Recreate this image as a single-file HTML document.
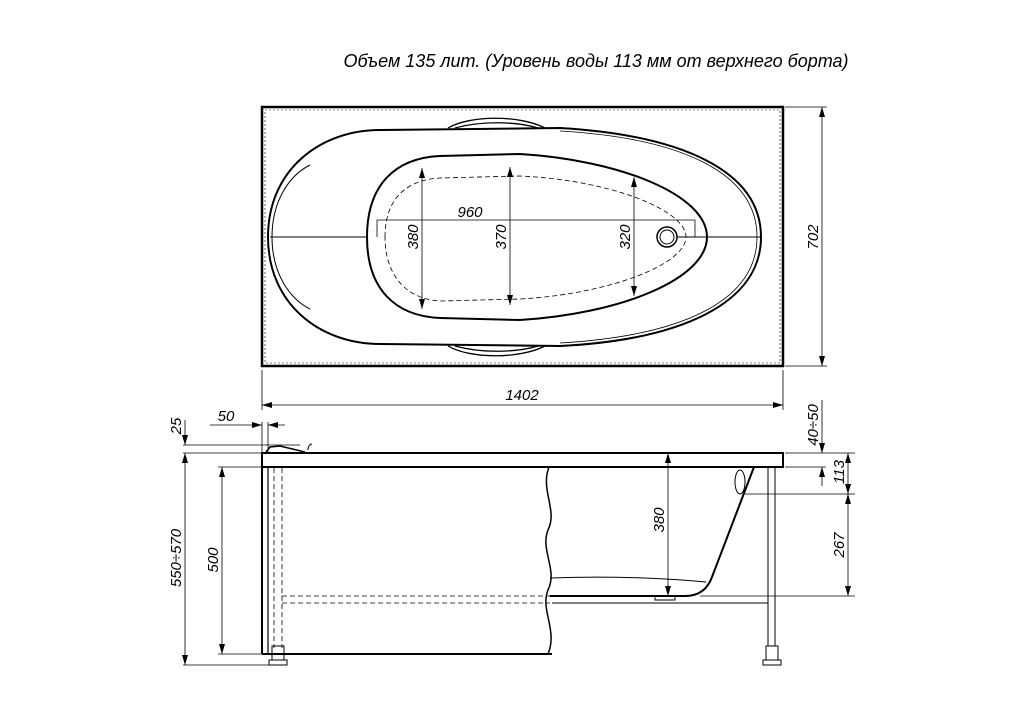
<!DOCTYPE html>
<html><head><meta charset="utf-8"><style>
html,body{margin:0;padding:0;background:#fff;}
svg{display:block;}
text{font-family:"Liberation Sans",sans-serif;font-style:italic;fill:#000;}
</style></head><body>
<svg width="1024" height="720" viewBox="0 0 1024 720" xmlns="http://www.w3.org/2000/svg">
<defs>
<marker id="a" viewBox="0 0 10 6" refX="10" refY="3" markerWidth="10" markerHeight="6" orient="auto-start-reverse" markerUnits="userSpaceOnUse"><path d="M0,0 L10,3 L0,6 Z" fill="#000"/></marker>
</defs>
<text x="596" y="67" font-size="18" text-anchor="middle">Объем 135 лит. (Уровень воды 113 мм от верхнего борта)</text>

<!-- Top view -->
<g fill="none" stroke="#000">
<rect x="262" y="107" width="521" height="259" stroke-width="2.5"/>
<rect x="265" y="110" width="515" height="253" stroke-width="0.6" stroke-dasharray="2 2"/>
<path d="M268,237 C268,170 320,130 380,130 L560,128 C680,135 761,170 761,237 C761,304 680,340 560,346 L380,344 C320,344 268,304 268,237 Z" stroke-width="2"/>
<path d="M272,237 C272,200 290,175 310,165" stroke-width="1"/>
<path d="M272,237 C272,274 290,299 310,309" stroke-width="1"/>
<path d="M757,237 C757,172 680,138 560,131" stroke-width="0.8"/>
<path d="M757,237 C757,302 680,336 560,343" stroke-width="0.8"/>
<path d="M448,128 C470,115 520,115 545,128 M455,128 C480,121 515,121 538,128" stroke-width="1.3"/>
<path d="M448,346 C470,359 520,359 545,346 M455,346 C480,353 515,353 538,346" stroke-width="1.3"/>
<path d="M367,237 C367,185 395,158 440,156 L520,154 C620,160 707,195 707,237 C707,279 620,314 520,320 L440,318 C395,316 367,289 367,237 Z" stroke-width="2"/>
<path d="M385,237 C385,200 405,180 440,178 L520,176 C610,180 686,210 686,237 C686,264 610,294 520,299 L440,301 C405,299 385,274 385,237 Z" stroke-width="0.8" stroke-dasharray="5 3"/>
<circle cx="667" cy="237" r="10" stroke-width="1.5"/>
<circle cx="667" cy="237" r="7" stroke-width="1"/>
<line x1="270" y1="237" x2="367" y2="237" stroke-width="1"/>
<line x1="677" y1="237" x2="761" y2="237" stroke-width="1"/>
<line x1="377" y1="220" x2="695" y2="220" stroke-width="0.8"/>
<line x1="377" y1="220" x2="377" y2="237" stroke-width="0.8"/>
<line x1="695" y1="220" x2="695" y2="237" stroke-width="0.8"/>
<line x1="422" y1="168" x2="422" y2="309" stroke-width="0.8" marker-start="url(#a)" marker-end="url(#a)"/>
<line x1="510" y1="167" x2="510" y2="305" stroke-width="0.8" marker-start="url(#a)" marker-end="url(#a)"/>
<line x1="634" y1="177" x2="634" y2="296" stroke-width="0.8" marker-start="url(#a)" marker-end="url(#a)"/>
<line x1="785" y1="107" x2="827" y2="107" stroke-width="0.8"/>
<line x1="785" y1="366" x2="827" y2="366" stroke-width="0.8"/>
<line x1="822" y1="107" x2="822" y2="366" stroke-width="0.8" marker-start="url(#a)" marker-end="url(#a)"/>
<line x1="262" y1="370" x2="262" y2="410" stroke-width="0.8"/>
<line x1="783" y1="370" x2="783" y2="410" stroke-width="0.8"/>
<line x1="262" y1="405" x2="783" y2="405" stroke-width="0.8" marker-start="url(#a)" marker-end="url(#a)"/>
</g>
<text x="470" y="217" font-size="15" text-anchor="middle">960</text>
<text transform="translate(418,237) rotate(-90)" font-size="15" text-anchor="middle">380</text>
<text transform="translate(506,237) rotate(-90)" font-size="15" text-anchor="middle">370</text>
<text transform="translate(630,237) rotate(-90)" font-size="15" text-anchor="middle">320</text>
<text transform="translate(818,237) rotate(-90)" font-size="15" text-anchor="middle">702</text>
<text x="522" y="400" font-size="15" text-anchor="middle">1402</text>

<!-- Side view -->
<g fill="none" stroke="#000">
<rect x="262" y="453" width="521" height="14" stroke-width="2"/>
<line x1="268" y1="467" x2="268" y2="654" stroke-width="1.2"/>
<line x1="262" y1="453" x2="262" y2="654" stroke-width="2"/>
<line x1="262" y1="654" x2="552" y2="654" stroke-width="2"/>
<path d="M266,452 L270,447 L280,446 L305,452" stroke-width="1.5"/>
<path d="M308,450 C308,446 310,444 312,444" stroke-width="1"/>
<path d="M549,467 C540,490 558,510 548,530 C540,550 558,570 548,590 C540,610 558,630 548,654" stroke-width="1.5"/>
<line x1="274" y1="468" x2="274" y2="648" stroke-width="0.8" stroke-dasharray="5 3"/>
<line x1="282" y1="468" x2="282" y2="648" stroke-width="0.8" stroke-dasharray="5 3"/>
<line x1="282" y1="596" x2="550" y2="596" stroke-width="0.8" stroke-dasharray="5 3"/>
<line x1="282" y1="603" x2="550" y2="603" stroke-width="0.8" stroke-dasharray="5 3"/>
<rect x="272" y="646" width="12" height="14" stroke-width="1"/>
<rect x="269" y="660" width="18" height="5" stroke-width="1"/>
<path d="M754,467 L712,577 C708,588 700,596 685,596 L550,596" stroke-width="2"/>
<path d="M550,578 C600,576 650,577 706,582" stroke-width="1"/>
<rect x="655" y="596" width="20" height="4" stroke-width="1"/>
<line x1="552" y1="603" x2="768" y2="603" stroke-width="1"/>
<ellipse cx="740" cy="482" rx="5" ry="12" stroke-width="1"/>
<line x1="768" y1="467" x2="768" y2="646" stroke-width="1"/>
<line x1="775" y1="467" x2="775" y2="646" stroke-width="1"/>
<rect x="766" y="646" width="12" height="14" stroke-width="1"/>
<rect x="763" y="660" width="18" height="5" stroke-width="1"/>
<line x1="183" y1="445" x2="300" y2="445" stroke-width="0.8"/>
<line x1="183" y1="453" x2="262" y2="453" stroke-width="0.8"/>
<line x1="185" y1="420" x2="185" y2="445" stroke-width="0.8" marker-end="url(#a)"/>
<line x1="185" y1="453" x2="185" y2="665" stroke-width="0.8" marker-start="url(#a)" marker-end="url(#a)"/>
<line x1="183" y1="665" x2="285" y2="665" stroke-width="0.8"/>
<line x1="218" y1="467" x2="262" y2="467" stroke-width="0.8"/>
<line x1="218" y1="654" x2="262" y2="654" stroke-width="0.8"/>
<line x1="222" y1="467" x2="222" y2="654" stroke-width="0.8" marker-start="url(#a)" marker-end="url(#a)"/>
<line x1="210" y1="425" x2="262" y2="425" stroke-width="0.8" marker-end="url(#a)"/>
<line x1="268" y1="425" x2="285" y2="425" stroke-width="0.8" marker-start="url(#a)"/>
<line x1="262" y1="422" x2="262" y2="453" stroke-width="0.8"/>
<line x1="268" y1="422" x2="268" y2="453" stroke-width="0.8"/>
<line x1="668" y1="453" x2="668" y2="596" stroke-width="0.8" marker-start="url(#a)" marker-end="url(#a)"/>
<line x1="785" y1="453" x2="855" y2="453" stroke-width="0.8"/>
<line x1="745" y1="494" x2="855" y2="494" stroke-width="0.8"/>
<line x1="700" y1="596" x2="855" y2="596" stroke-width="0.8"/>
<line x1="848" y1="453" x2="848" y2="494" stroke-width="0.8" marker-start="url(#a)" marker-end="url(#a)"/>
<line x1="848" y1="494" x2="848" y2="596" stroke-width="0.8" marker-start="url(#a)" marker-end="url(#a)"/>
<line x1="822" y1="400" x2="822" y2="453" stroke-width="0.8" marker-end="url(#a)"/>
<line x1="822" y1="486" x2="822" y2="467" stroke-width="0.8" marker-end="url(#a)"/>
<line x1="785" y1="467" x2="826" y2="467" stroke-width="0.8"/>
</g>
<text x="226" y="421" font-size="15" text-anchor="middle">50</text>
<text transform="translate(181,426) rotate(-90)" font-size="15" text-anchor="middle">25</text>
<text transform="translate(181,558) rotate(-90)" font-size="15" text-anchor="middle">550÷570</text>
<text transform="translate(218,560) rotate(-90)" font-size="15" text-anchor="middle">500</text>
<text transform="translate(664,520) rotate(-90)" font-size="15" text-anchor="middle">380</text>
<text transform="translate(818,425) rotate(-90)" font-size="15" text-anchor="middle">40÷50</text>
<text transform="translate(844,472) rotate(-90)" font-size="15" text-anchor="middle">113</text>
<text transform="translate(844,545) rotate(-90)" font-size="15" text-anchor="middle">267</text>
</svg>
</body></html>
